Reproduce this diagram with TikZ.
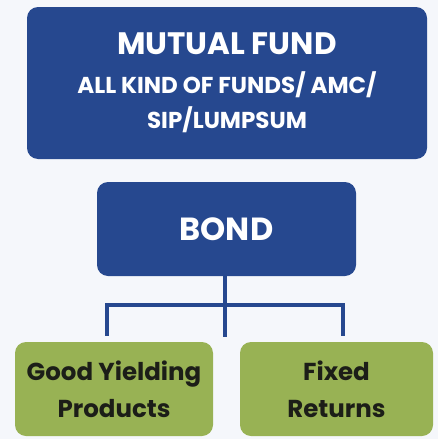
\documentclass[tikz,border=0pt]{standalone}
\usepackage{fontspec}
\setmainfont{Poppins}
\definecolor{bg}{RGB}{245,247,251}
\definecolor{navy}{RGB}{38,72,143}
\definecolor{olive}{RGB}{152,178,84}
\definecolor{ink}{RGB}{28,30,24}
\begin{document}
\begin{tikzpicture}[x=1pt,y=-1pt,
  bluebox/.style={fill=navy,rounded corners=11pt,inner sep=0pt,text=white,font=\bfseries,align=center},
  greenbox/.style={fill=olive,rounded corners=11pt,inner sep=0pt,text=ink,font=\bfseries\fontsize{24.5}{37}\selectfont,align=center,minimum height=94pt},
  link/.style={draw=navy,line width=3.5pt}]
\fill[bg] (0,0) rectangle (438,439);
\useasboundingbox (0,0) rectangle (438,439);
\node[bluebox,minimum width=400pt,minimum height=152pt,font=\bfseries\fontsize{23}{35}\selectfont] (mf) at (227,83)
  {{\fontsize{31}{40}\selectfont MUTUAL FUND}\\[4pt]
   ALL KIND OF FUNDS/ AMC/\\SIP/LUMPSUM};
\node[bluebox,minimum width=259pt,minimum height=94pt,font=\bfseries\fontsize{32}{36}\selectfont] (bond) at (226.5,229) {BOND};
\node[greenbox,minimum width=198pt] (gy) at (114,389) {Good Yielding\\Products};
\node[greenbox,minimum width=193pt] (fr) at (336.5,389) {Fixed\\Returns};
\coordinate (hub) at (225,305);
\coordinate (hl) at (107,305);
\coordinate (hr) at (343,305);
\draw[link] (bond.south -| hub) -- (hub) -- ++(0,32);
\draw[link,line cap=rect] (hl) -- (hr);
\draw[link] (hl) -- ++(0,31);
\draw[link] (hr) -- ++(0,31);
\end{tikzpicture}
\end{document}
